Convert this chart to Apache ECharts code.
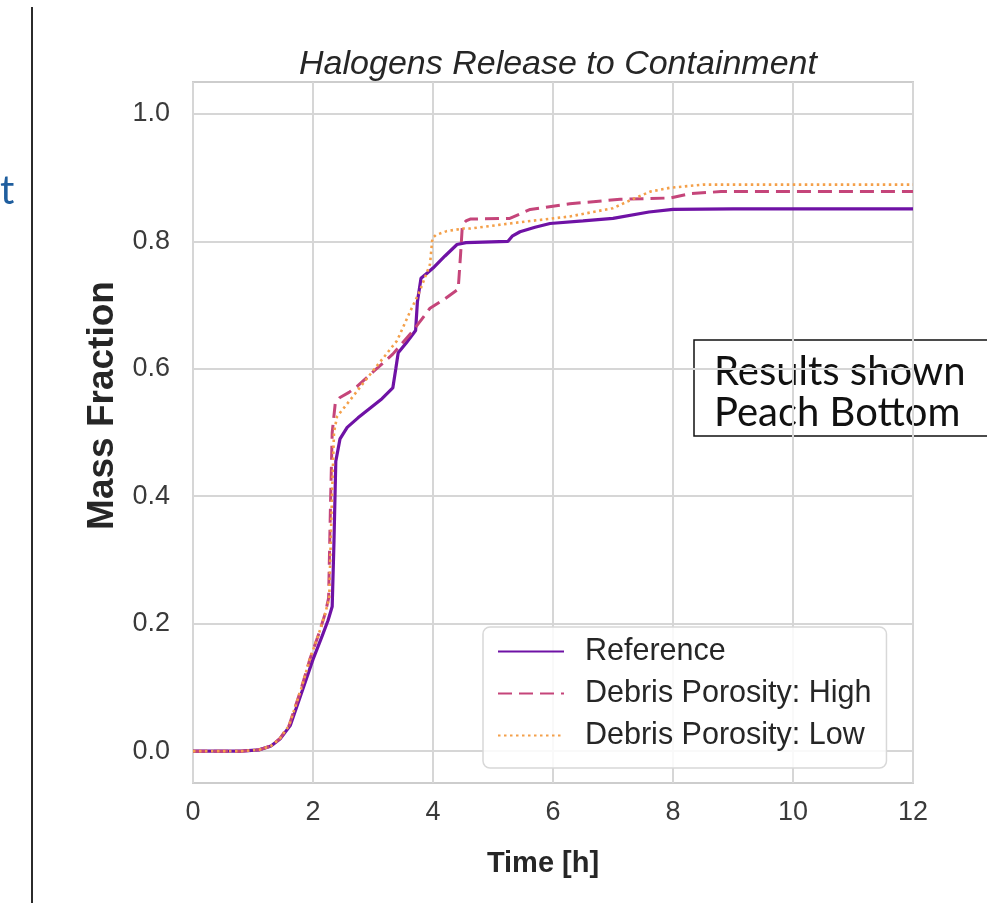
<!DOCTYPE html>
<html><head><meta charset="utf-8">
<script src="https://cdn.jsdelivr.net/npm/echarts@6/dist/echarts.min.js"></script>
<style>html,body{margin:0;padding:0;background:#fff}#c{width:987px;height:903px}</style>
</head><body><div id="c"></div>
<script>
// ---- data ----
const chartTitle = 'Halogens Release to Containment';
const xAxisName = 'Time [h]';
const yAxisName = 'Mass Fraction';
const xTicks = [0, 2, 4, 6, 8, 10, 12];
const yTicks = [0, 0.2, 0.4, 0.6, 0.8, 1.0];
const seriesNames = ['Reference', 'Debris Porosity: High', 'Debris Porosity: Low'];

const refTime = [0, 0.8, 1.1, 1.3, 1.45, 1.62, 1.83, 2.0, 2.15, 2.25, 2.32, 2.35, 2.38, 2.45, 2.57, 2.75, 2.95, 3.15, 3.33, 3.38, 3.42, 3.55, 3.67, 3.71, 3.74, 3.8, 3.9, 4.0, 4.2, 4.4, 4.55, 5.25, 5.32, 5.45, 5.7, 5.95, 6.5, 7.0, 7.6, 8.0, 9.0, 12];
const refFrac = [0, 0, 0.002, 0.008, 0.019, 0.04, 0.097, 0.144, 0.18, 0.205, 0.227, 0.33, 0.455, 0.49, 0.508, 0.523, 0.538, 0.553, 0.57, 0.6, 0.625, 0.64, 0.655, 0.66, 0.705, 0.742, 0.75, 0.758, 0.777, 0.795, 0.798, 0.8, 0.808, 0.815, 0.822, 0.828, 0.832, 0.836, 0.846, 0.85, 0.851, 0.851];

const highTime = [0, 0.8, 1.1, 1.3, 1.45, 1.6, 1.8, 1.95, 2.1, 2.2, 2.26, 2.29, 2.32, 2.37, 2.45, 2.6, 2.73, 3.0, 3.33, 3.67, 3.95, 4.2, 4.42, 4.46, 4.49, 4.55, 4.62, 5.28, 5.45, 5.62, 6.28, 7.12, 7.95, 8.3, 8.8, 12];
const highFrac = [0, 0, 0.002, 0.008, 0.02, 0.04, 0.097, 0.145, 0.185, 0.215, 0.24, 0.38, 0.5, 0.545, 0.555, 0.563, 0.572, 0.595, 0.623, 0.66, 0.695, 0.71, 0.725, 0.78, 0.826, 0.832, 0.835, 0.836, 0.843, 0.85, 0.859, 0.866, 0.868, 0.875, 0.878, 0.878];

const lowTime = [0, 0.8, 1.1, 1.3, 1.45, 1.6, 1.8, 1.95, 2.1, 2.2, 2.27, 2.31, 2.35, 2.4, 2.57, 2.9, 3.4, 3.62, 3.78, 3.95, 3.99, 4.05, 4.23, 4.5, 4.62, 5.28, 5.45, 6.28, 7.0, 7.3, 7.62, 7.95, 8.5, 12];
const lowFrac = [0, 0, 0.002, 0.008, 0.02, 0.04, 0.097, 0.145, 0.185, 0.215, 0.24, 0.38, 0.5, 0.525, 0.545, 0.585, 0.644, 0.69, 0.722, 0.764, 0.805, 0.81, 0.816, 0.82, 0.82, 0.828, 0.83, 0.839, 0.852, 0.865, 0.878, 0.884, 0.889, 0.889];

const noteLines = ['Results shown', 'Peach Bottom'];
const sideLetter = 't';

// ---- build ----
const pairs = (t, v) => t.map((x, i) => [x, v[i]]);
const FONT = "'Liberation Sans', Arial, sans-serif";
const NOTE_FONT = "40px Lato, 'Liberation Sans', sans-serif";
const gridColor = '#d6d6d6';

const chart = echarts.init(document.getElementById('c'), null, { renderer: 'canvas' });
chart.setOption({
  backgroundColor: '#ffffff',
  animation: false,
  title: {
    text: chartTitle,
    left: 553,
    top: 43,
    textAlign: 'center',
    textStyle: { fontFamily: FONT, fontStyle: 'italic', fontWeight: 'normal', fontSize: 34, color: '#262626' }
  },
  grid: {
    left: 193, right: 74, top: 82, bottom: 120,
    show: true, borderColor: '#cdcdcd', borderWidth: 2, backgroundColor: 'transparent'
  },
  xAxis: {
    type: 'value', min: 0, max: 12, interval: 2,
    name: xAxisName, nameLocation: 'middle', nameGap: 66,
    nameTextStyle: { fontFamily: FONT, fontWeight: 'bold', fontSize: 29, color: '#262626', padding: [0, 20, 0, 0] },
    axisLine: { show: false }, axisTick: { show: false },
    axisLabel: { fontFamily: FONT, fontSize: 27, color: '#3a3a3a', margin: 16,
                 customValues: xTicks, formatter: v => String(v) },
    splitLine: { show: true, lineStyle: { color: gridColor, width: 2 } }
  },
  yAxis: {
    type: 'value', min: -0.05, max: 1.05,
    name: yAxisName, nameLocation: 'middle', nameGap: 72, nameRotate: 90,
    nameTextStyle: { fontFamily: FONT, fontWeight: 'bold', fontSize: 37, color: '#262626', padding: [0, 0, 0, 54] },
    axisLine: { show: false },
    axisTick: { show: false, customValues: yTicks },
    axisLabel: { fontFamily: FONT, fontSize: 27, color: '#3a3a3a', margin: 23,
                 customValues: yTicks, formatter: v => Number(v).toFixed(1) },
    splitLine: { show: true, lineStyle: { color: gridColor, width: 2 } }
  },
  legend: {
    orient: 'vertical',
    left: 483, top: 627,
    data: seriesNames,
    itemWidth: 66, itemHeight: 16, itemGap: 11,
    padding: [9, 15, 17, 14],
    backgroundColor: 'rgba(255,255,255,0.85)',
    borderColor: '#d8d8d8', borderWidth: 1.5, borderRadius: 7,
    itemStyle: { opacity: 0, borderWidth: 0 },
    textStyle: { fontFamily: FONT, fontSize: 30.5, color: '#262626', padding: [0, 0, 0, 16] }
  },
  series: [
    { name: seriesNames[0], type: 'line', symbol: 'none', data: pairs(refTime, refFrac),
      lineStyle: { color: '#6f12a5', width: 3.2 }, itemStyle: { color: '#6f12a5' }, z: 3 },
    { name: seriesNames[1], type: 'line', symbol: 'none', data: pairs(highTime, highFrac),
      lineStyle: { color: '#c5457a', width: 3, type: [14, 7] }, itemStyle: { color: '#c5457a' }, z: 4 },
    { name: seriesNames[2], type: 'line', symbol: 'none', data: pairs(lowTime, lowFrac),
      lineStyle: { color: '#f4a04a', width: 2.6, type: [2.5, 3.5] }, itemStyle: { color: '#f4a04a' }, z: 5 }
  ],
  graphic: [
    { type: 'line', shape: { x1: 32, y1: 7, x2: 32, y2: 903 }, style: { stroke: '#2b2b2b', lineWidth: 2 } },
    { type: 'text', left: 0, top: 171, style: { text: sideLetter, fill: '#1f5e9e', font: "40px Lato, 'Liberation Sans', sans-serif" } },
    { type: 'rect', shape: { x: 694, y: 340, width: 320, height: 96 }, style: { fill: 'transparent', stroke: '#111', lineWidth: 1.5 } },
    { type: 'text', left: 714, top: 352, style: { text: noteLines[0], fill: '#111', font: NOTE_FONT } },
    { type: 'text', left: 714, top: 393, style: { text: noteLines[1], fill: '#111', font: NOTE_FONT } }
  ]
});
</script></body></html>
